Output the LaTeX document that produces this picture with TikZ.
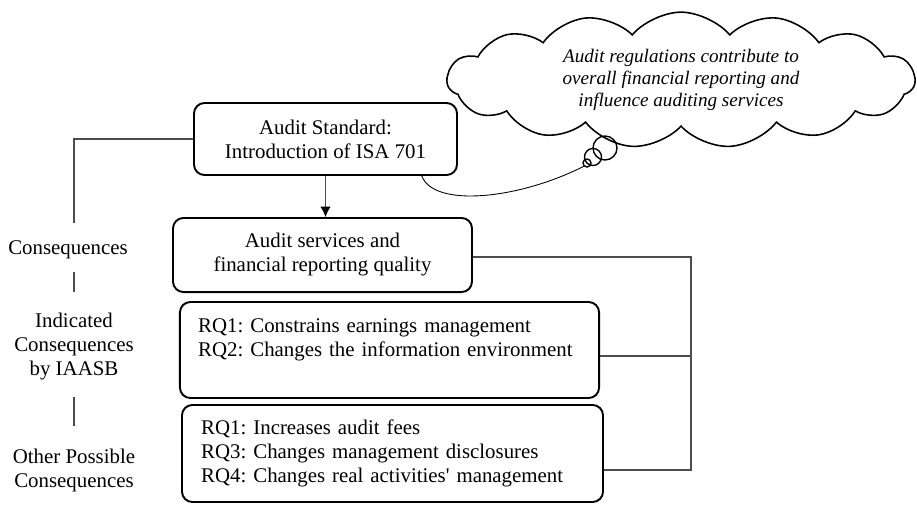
\documentclass[tikz,border=0pt]{standalone}
\usepackage{fontspec}
\setmainfont{Liberation Serif}
\usetikzlibrary{arrows.meta,shapes.symbols,calc}
\definecolor{linkgray}{gray}{0.3}
\newcommand{\sidelink}[4]{\draw [link, shorten <=#3, shorten >=#4] (#1) -- (#2);}
\frenchspacing

\begin{document}
\begin{tikzpicture}[x=0.575pt, y=-0.575pt,
 every node/.style={font=\fontsize{12}{13.8}\selectfont},
 box/.style={draw, rounded corners=6pt, line width=1.1pt, align=center},
 rqbox/.style={box, align=left, text width=220pt, inner xsep=10.5pt},
 side/.style={align=center, inner sep=0pt},
 link/.style={linkgray, line width=0.6pt}]
\useasboundingbox (0,0) rectangle (917,505);

 \node[box, minimum width=151.2pt, minimum height=41.4pt] (std) at (325.5,139) {Audit Standard:\\Introduction of ISA 701};
 \node[box, minimum width=171.9pt, minimum height=42.6pt] (svc) at (322.5,255) {Audit services and\\financial reporting quality};
 \node[rqbox, minimum width=240.9pt, minimum height=55.2pt] (ind box) at (389.5,350) {RQ1: Constrains earnings management\\RQ2: Changes the information environment\\ \mbox{}};
 \node[rqbox, minimum width=242.1pt, minimum height=55.8pt] (oth box) at (392.5,453.5) {RQ1: Increases audit fees\\RQ3: Changes management disclosures\\RQ4: Changes real activities\textquotesingle\ management};

 \node[side] (cons) at (68,250) {Consequences};
 \node[side] (ind) at (74,347) {Indicated\\Consequences\\by IAASB};
 \node[side] (oth) at (74,470) {Other Possible\\Consequences};

 \node[cloud, draw, cloud puffs=15, cloud puff arc=100, cloud ignores aspect, minimum width=269pt, minimum height=76pt, line width=0.9pt, align=center, font=\fontsize{11}{12.8}\selectfont\itshape] (note) at (681,80) {Audit regulations contribute to\\overall financial reporting and\\influence auditing services};
 \node[circle, draw, line width=0.8pt, minimum size=13.8pt, inner sep=0pt] (bubA) at (605,148) {};
 \node[circle, draw, line width=0.8pt, minimum size=9.8pt, inner sep=0pt] (bubB) at (593,157) {};
 \node[circle, draw, line width=0.8pt, minimum size=4.6pt, inner sep=0pt] (bubC) at (587,163) {};
 \draw [line width=0.5pt] (std.-21.5) .. controls +(12,32) and +(-65,33) .. (bubC.225);

 % links
 \draw [link, -{Latex[length=6pt,width=6pt,black]}] (std.south) -- (std.south |- svc.north);
 \draw [link, shorten >=10pt] (std.west) -| (cons.north -| ind.north);
 \sidelink{cons.south -| ind.north}{ind.north}{7pt}{12pt}
 \sidelink{ind.south}{oth.north}{9.5pt}{12.5pt}

 \coordinate (bus) at (691,0);
 \path ($(svc.east)+(0,2)$) coordinate (s1) ($(ind box.east)+(0,6)$) coordinate (s2) ($(oth box.east)+(0,16.5)$) coordinate (s3);
 \draw [link] (s1) -- (s1 -| bus) |- (s3);
 \draw [link] (s2) -- (s2 -| bus);
\end{tikzpicture}
\end{document}
